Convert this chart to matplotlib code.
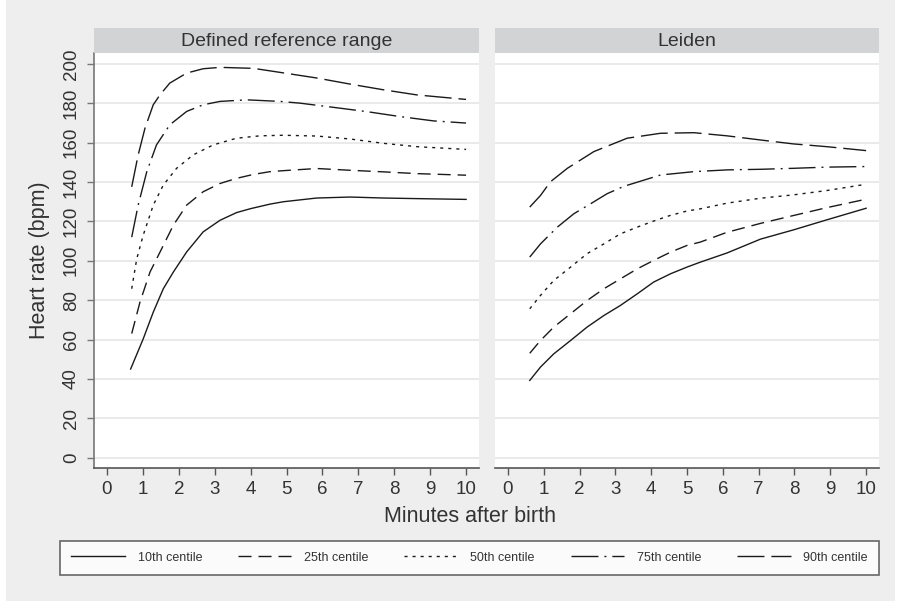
import matplotlib
matplotlib.use("Agg")
import matplotlib.pyplot as plt
from matplotlib.lines import Line2D
from matplotlib.patches import Rectangle

plt.rcParams['font.family'] = ['Liberation Sans', 'DejaVu Sans']
plt.rcParams['lines.scale_dashes'] = False

panels = ["Defined reference range", "Leiden"]
centiles = ["10th centile", "25th centile", "50th centile", "75th centile", "90th centile"]

# Defined reference range
ref_x10 = [0.66, 1.01, 1.29, 1.57, 1.85, 2.22, 2.68, 3.15, 3.61, 4.0, 4.54, 4.91, 5.84, 6.77, 7.70, 8.63, 10.0]
ref_y10 = [45, 60.3, 73.9, 85.8, 94.3, 104.5, 114.7, 120.6, 124.5, 126.5, 128.8, 130, 131.9, 132.4, 131.9, 131.6, 131.2]
ref_x25 = [0.69, 0.92, 1.20, 1.48, 1.85, 2.22, 2.68, 3.15, 3.61, 4.08, 4.54, 4.91, 5.84, 6.77, 7.70, 8.63, 10.0]
ref_y25 = [63, 79, 94.3, 104.5, 118.1, 128.3, 135.1, 139.3, 141.9, 143.9, 145.3, 145.8, 146.9, 146, 145.2, 144.3, 143.5]
ref_x50 = [0.69, 0.83, 1.01, 1.29, 1.57, 1.94, 2.40, 2.96, 3.61, 4.26, 4.91, 5.84, 6.77, 7.70, 8.63, 10.0]
ref_y50 = [85.8, 101, 113, 128.3, 138.5, 147, 153.8, 158.9, 162.3, 163.5, 163.8, 163.4, 161.9, 159.7, 158, 156.6]
ref_x75 = [0.69, 0.87, 1.11, 1.38, 1.75, 2.22, 2.68, 3.15, 3.89, 4.82, 5.38, 6.30, 7.24, 8.16, 9.09, 10.0]
ref_y75 = [112, 128.3, 145.3, 158.9, 169.1, 175.9, 179.3, 181, 181.8, 181, 180.1, 178, 175.8, 173.3, 171.1, 170]
ref_x90 = [0.69, 0.87, 1.06, 1.29, 1.48, 1.75, 2.22, 2.68, 3.15, 4.08, 4.91, 5.84, 6.77, 7.70, 8.63, 10.0]
ref_y90 = [137.6, 153.8, 167.4, 179.3, 184.4, 190.3, 195.4, 197.6, 198.3, 197.8, 195.5, 192.9, 189.8, 186.9, 184.3, 182]

# Leiden
lei_x10 = [0.61, 0.91, 1.28, 1.75, 2.21, 2.68, 3.14, 3.61, 4.07, 4.54, 5.0, 5.37, 6.12, 7.05, 7.97, 8.90, 10.0]
lei_y10 = [39.2, 46, 52.7, 59.5, 66.3, 72.2, 77.3, 83.2, 89.2, 93.4, 96.8, 99.3, 104, 111, 115.7, 120.8, 126.7]
lei_x25 = [0.61, 0.91, 1.28, 1.75, 2.21, 2.68, 3.14, 3.61, 4.07, 4.54, 5.0, 5.37, 6.12, 7.05, 7.97, 8.90, 10.0]
lei_y25 = [53, 59.5, 66.3, 73.1, 79.8, 85.8, 90.8, 95.9, 100.2, 104.4, 107.8, 109.5, 114.5, 119, 123, 127, 131.3]
lei_x50 = [0.61, 0.91, 1.28, 1.75, 2.21, 2.68, 3.14, 3.61, 4.07, 4.54, 5.0, 5.37, 6.12, 7.05, 7.97, 8.90, 10.0]
lei_y50 = [75.6, 82.4, 90, 96.8, 103.6, 108.6, 113.7, 117.1, 120.2, 123.1, 125.3, 126.4, 129.3, 131.8, 133.5, 135.7, 138.9]
lei_x75 = [0.61, 0.91, 1.38, 1.84, 2.31, 2.77, 3.23, 4.26, 5.19, 6.12, 7.05, 7.97, 8.90, 10.0]
lei_y75 = [101.9, 108.6, 117.1, 123.9, 129, 134.1, 137.8, 143.6, 145.3, 146.2, 146.5, 147, 147.6, 147.9]
lei_x90 = [0.61, 0.91, 1.19, 1.66, 2.40, 3.33, 4.26, 5.19, 6.12, 7.05, 7.97, 8.90, 10.0]
lei_y90 = [127.3, 133.2, 140.2, 147, 155.5, 162.3, 164.8, 165.1, 163.5, 161.4, 159.4, 158, 156]

x_ticks = list(range(0, 11))
y_ticks = list(range(0, 201, 20))

data = [
    [(ref_x10, ref_y10), (ref_x25, ref_y25), (ref_x50, ref_y50), (ref_x75, ref_y75), (ref_x90, ref_y90)],
    [(lei_x10, lei_y10), (lei_x25, lei_y25), (lei_x50, lei_y50), (lei_x75, lei_y75), (lei_x90, lei_y90)],
]

styles = [
    dict(linestyle='-'),
    dict(linestyle=(0, (9.4, 5.0))),
    dict(linestyle=(0, (2.2, 3.6))),
    dict(linestyle=(0, (19.4, 4.3, 1.4, 4.3))),
    dict(linestyle=(0, (19.4, 5.0))),
]
line_color = '#1a1a1a'
lw = 1.0
text_color = '#333333'

W, H = 899, 601
fig = plt.figure(figsize=(W / 100, H / 100), dpi=100)
fig.patch.set_facecolor('white')
fig.add_artist(Rectangle((6 / W, 0), (895 - 6) / W, 1, transform=fig.transFigure,
                         facecolor='#eeeeee', edgecolor='none', zorder=-10))

def fx(px):
    return px / W

def fy(py):
    return 1 - py / H

axes_px = [(94, 479), (495, 879)]
top_px, bot_px = 53, 468
strip_top = 28

for i, (x0, x1) in enumerate(axes_px):
    ax = fig.add_axes([fx(x0), fy(bot_px), fx(x1 - x0), (bot_px - top_px) / H])
    ax.set_facecolor('white')
    ax.set_xlim(-0.36, 10.36)
    ax.set_ylim(-5.3, 205.6)
    for (xs, ys), st in zip(data[i], styles):
        ax.plot(xs, ys, color=line_color, lw=lw, **st)
    ax.set_xticks(x_ticks)
    ax.set_yticks(y_ticks)
    ax.grid(axis='y', color='#e6e6e6', lw=1.2)
    ax.set_axisbelow(True)
    for s in ['top', 'right']:
        ax.spines[s].set_visible(False)
    ax.spines['bottom'].set_color('#555555')
    ax.spines['bottom'].set_linewidth(1.2)
    ax.tick_params(axis='x', direction='out', length=5, width=1, color='#555555',
                   labelsize=13.5, labelcolor=text_color, pad=4)
    if i == 0:
        ax.spines['left'].set_color('#777777')
        ax.spines['left'].set_linewidth(1.2)
        ax.tick_params(axis='y', direction='out', length=5, width=1, color='#777777',
                       labelsize=13.5, labelcolor=text_color, pad=5)
        for lab in ax.get_yticklabels():
            lab.set_rotation(90)
            lab.set_va('center')
    else:
        ax.spines['left'].set_visible(False)
        ax.tick_params(axis='y', length=0, labelleft=False)
    # strip
    fig.add_artist(Rectangle((fx(x0), fy(top_px)), fx(x1 - x0), (top_px - strip_top) / H,
                             transform=fig.transFigure, facecolor='#d2d3d5',
                             edgecolor='none'))
    fig.text(fx((x0 + x1) / 2), fy((top_px + strip_top) / 2 + 1), panels[i],
             ha='center', va='center', fontsize=14, color=text_color)

fig.text(fx(470), fy(517), "Minutes after birth", ha='center', va='center',
         fontsize=15.5, color=text_color)
fig.text(fx(40), fy(260), "Heart rate (bpm)", ha='center', va='center',
         rotation=90, fontsize=15.5, color=text_color)

handles = [Line2D([], [], color=line_color, lw=lw, **st) for st in styles]
leg = fig.legend(handles, centiles, loc='lower left', ncol=5, mode='expand',
                 bbox_to_anchor=(fx(60), fy(575), fx(879 - 60), (575 - 537) / H),
                 fontsize=9, handlelength=4.3, handletextpad=1.0,
                 frameon=True, fancybox=False, borderaxespad=0,
                 borderpad=0.9, columnspacing=2.0)
leg.get_frame().set_edgecolor('#444444')
leg.get_frame().set_linewidth(1.2)
for t in leg.get_texts():
    t.set_color(text_color)

fig.savefig('out.png', dpi=100)
